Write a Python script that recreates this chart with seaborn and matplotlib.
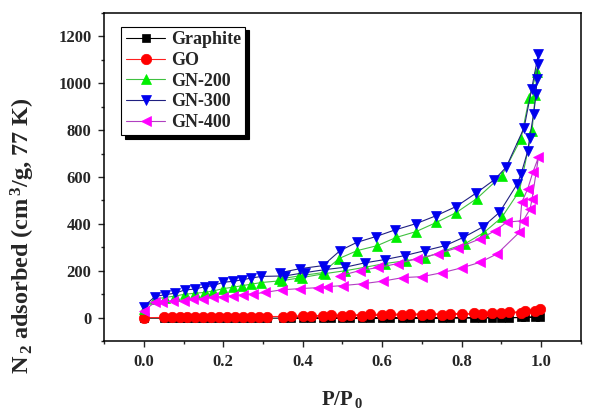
import numpy as np
import pandas as pd
import seaborn as sns
import matplotlib.pyplot as plt
from matplotlib.ticker import MultipleLocator

# GO: adsorption then desorption
go_x = [0, 0.05, 0.07, 0.09, 0.11, 0.13, 0.15, 0.17, 0.19, 0.21, 0.23, 0.25, 0.27, 0.29, 0.31,
        0.35, 0.40, 0.45, 0.50, 0.55, 0.60, 0.65, 0.70, 0.75, 0.80, 0.85, 0.90, 0.95, 0.985, 0.997,
        0.96, 0.92, 0.875, 0.83, 0.77, 0.72, 0.67, 0.62, 0.57, 0.52, 0.47, 0.42, 0.37]
go_y = [0, 1, 1, 2, 2, 2, 3, 3, 3, 3, 4, 4, 4, 4, 5,
        5, 6, 7, 8, 9, 10, 11, 12, 13, 14, 16, 18, 22, 28, 38,
        27, 23, 19, 18, 17, 16, 16, 15, 14, 12, 10, 8, 6]

graphite_x = go_x
graphite_y = [-2, -2, -2, -2, -2, -2, -2, -2, -2, -2, -2, -2, -2, -2, -2,
              -2, -2, -2, -1, -1, -1, -1, -1, -1, 0, 0, 0, 1, 2, 4,
              1, 0, 0, -1, -1, -1, -1, -1, -2, -2, -2, -2, -2]

gn200_x = [0, 0.028, 0.053, 0.078, 0.103, 0.128, 0.154, 0.175, 0.2, 0.225, 0.246, 0.271, 0.296,
           0.348, 0.398, 0.456, 0.506, 0.557, 0.607, 0.66, 0.708, 0.758, 0.809, 0.855, 0.901,
           0.945, 0.977, 0.985, 0.989,
           0.970, 0.949, 0.901, 0.838, 0.786, 0.736, 0.685, 0.635, 0.587, 0.537, 0.491, 0.45,
           0.39, 0.34]
gn200_y = [35, 80, 86, 92, 100, 104, 108, 114, 124, 130, 136, 143, 150,
           158, 171, 188, 200, 215, 231, 243, 256, 286, 316, 362, 428,
           540, 798, 950, 1048,
           938, 762, 606, 508, 448, 406, 367, 342, 307, 286, 252, 192,
           178, 164]

gn300_x = [0, 0.028, 0.053, 0.078, 0.103, 0.128, 0.154, 0.175, 0.2, 0.225, 0.246, 0.271, 0.296,
           0.355, 0.405, 0.456, 0.506, 0.557, 0.607, 0.657, 0.708, 0.758, 0.804, 0.853, 0.895,
           0.939, 0.949, 0.966, 0.971, 0.981, 0.987, 0.989, 0.991, 0.993,
           0.976, 0.957, 0.912, 0.882, 0.836, 0.786, 0.736, 0.685, 0.632, 0.584, 0.536, 0.494,
           0.451, 0.393, 0.343]
gn300_y = [47, 90, 98, 104, 118, 122, 132, 137, 151, 155, 161, 169, 176,
           178, 192, 205, 215, 234, 248, 265, 286, 307, 342, 387, 449,
           568, 611, 710, 767, 870, 952, 1019, 1080, 1126,
           976, 810, 642, 588, 531, 474, 435, 401, 374, 346, 321, 286,
           222, 209, 192]

gn400_x = [0, 0.028, 0.045, 0.074, 0.1, 0.124, 0.149, 0.175, 0.2, 0.225, 0.25, 0.275, 0.305,
           0.348, 0.393, 0.438, 0.46, 0.501, 0.552, 0.602, 0.652, 0.700, 0.751, 0.801, 0.846,
           0.889, 0.945, 0.951, 0.966, 0.979, 0.993,
           0.977, 0.972, 0.955, 0.913, 0.884, 0.846, 0.791, 0.741, 0.688, 0.640, 0.590, 0.544,
           0.494]
gn400_y = [30, 65, 65, 72, 72, 80, 80, 87, 90, 94, 98, 101, 108,
           119, 124, 128, 132, 137, 145, 156, 171, 175, 192, 213, 236,
           272, 364, 492, 549, 620, 684,
           506, 464, 414, 407, 371, 336, 299, 273, 252, 231, 214, 201,
           179]

series = [
    ("Graphite", graphite_x, graphite_y, "s", 6.0, "black", "black"),
    ("GO", go_x, go_y, "o", 7.5, "red", "#ff2020"),
    ("GN-200", gn200_x, gn200_y, "^", 6.5, "#00ee00", "#40c040"),
    ("GN-300", gn300_x, gn300_y, "v", 6.5, "#0000ee", "#202080"),
    ("GN-400", gn400_x, gn400_y, "<", 6.5, "#ff00ff", "#b040c0"),
]

sns.set_style("ticks")
plt.rcParams['font.family'] = ['Liberation Serif', 'DejaVu Serif']
plt.rcParams['font.weight'] = 'bold'
plt.rcParams['mathtext.fontset'] = 'custom'
plt.rcParams['mathtext.rm'] = 'Liberation Serif:bold'
plt.rcParams['mathtext.it'] = 'Liberation Serif:bold'

fig = plt.figure(figsize=(5.91, 4.13), dpi=100)
ax = fig.add_axes([0.176, 0.174, 0.807, 0.795])

for name, xs, ys, mk, ms, mc, lc in series:
    sns.lineplot(x=xs, y=ys, sort=False, estimator=None, ax=ax, label=name,
                 color=lc, linewidth=0.8, marker=mk, markersize=ms,
                 markerfacecolor=mc, markeredgecolor=mc, markeredgewidth=0.5)

ax.set_xlim(-0.1, 1.1)
ax.set_ylim(-100, 1300)
ax.xaxis.set_minor_locator(MultipleLocator(0.1))
ax.yaxis.set_major_locator(MultipleLocator(200))
ax.yaxis.set_minor_locator(MultipleLocator(100))
ax.set_xticks([0.0, 0.2, 0.4, 0.6, 0.8, 1.0])
ax.set_xticklabels(["0.0", "0.2", "0.4", "0.6", "0.8", "1.0"])
ax.tick_params(which='major', direction='out', length=4, width=1, labelsize=12, pad=5)
ax.tick_params(which='minor', direction='out', length=2.5, width=1)
for s in ax.spines.values():
    s.set_linewidth(1.1)
    s.set_color("black")

ax.set_xlabel(r"P/P$_{\,0}$", fontsize=15, fontweight='bold', labelpad=14)
ax.set_ylabel(r"N$_{\,2}$ adsorbed (cm$^{\,3}$/g, 77 K)", fontsize=17.5, fontweight='bold')
ax.yaxis.set_label_coords(-0.14, 0.32)

leg = ax.legend(loc='upper left', bbox_to_anchor=(0.036, 0.957), borderaxespad=0,
                fontsize=13, handlelength=2.2, labelspacing=0.2, handletextpad=0.3,
                borderpad=0.25, fancybox=False, framealpha=1,
                shadow={'ox': 2.5, 'oy': -2.5, 'color': 'black', 'alpha': 1})
leg.get_frame().set_edgecolor("black")
leg.get_frame().set_linewidth(0.8)

fig.savefig("out.png", dpi=100)
